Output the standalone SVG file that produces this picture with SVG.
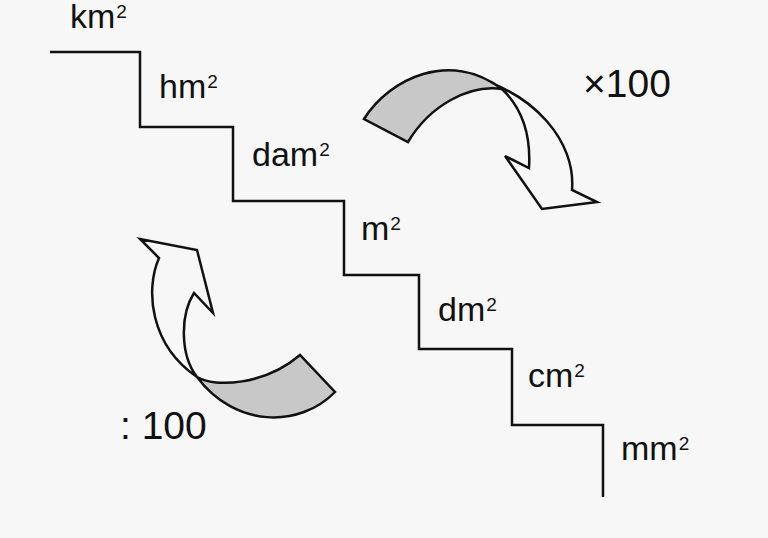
<svg xmlns="http://www.w3.org/2000/svg" width="768" height="538" viewBox="0 0 768 538">
<style>
.lbl{font-family:"Liberation Sans",Arial,sans-serif;font-size:34px;fill:#111}
.sup{font-size:19px}
.op{font-family:"Liberation Sans",Arial,sans-serif;font-size:39px;fill:#111}
.line{fill:none;stroke:#111;stroke-width:2.5}
.body{fill:#f7f7f7;stroke:#111;stroke-width:2.5;stroke-linejoin:miter}
.back{fill:#c8c8c8;stroke:#111;stroke-width:2.5;stroke-linejoin:miter}
</style>
<rect width="768" height="538" fill="#f7f7f7"/>
<g id="connectors">
<path id="stairs" class="line" d="M50,52 H140 V127 H233 V201 H344 V275 H419 V349 H512 V425 H603 V497"/>
</g>
<g id="arrow-x100">
<path class="body" d="M468,76 C535,92 576,142 572,190 L597,202 L542,209 L505,156 L529,168 C531,135 522,108 502,89 Z"/>
<path class="back" d="M364,119 C390,78 450,50 502,89 C470,84 430,105 408,142 Z"/>
</g>
<g id="arrow-div100">
<path class="body" d="M197,377 C150,345 145,290 159,258 L140,239 L197,250 L213,313 L194,293 C180,315 180,355 197,377 Z"/>
<path class="back" d="M197,377 C215,388 265,385 300,355 L335,392 C300,428 235,428 197,377 Z"/>
</g>
<g id="n-km"><text class="lbl" x="70" y="28">km<tspan class="sup" dy="-10" dx="1">2</tspan></text></g>
<g id="n-hm"><text class="lbl" x="159" y="98">hm<tspan class="sup" dy="-10" dx="1">2</tspan></text></g>
<g id="n-dam"><text class="lbl" x="252" y="166">dam<tspan class="sup" dy="-10" dx="1">2</tspan></text></g>
<g id="n-m"><text class="lbl" x="361" y="240">m<tspan class="sup" dy="-10" dx="1">2</tspan></text></g>
<g id="n-dm"><text class="lbl" x="438" y="321">dm<tspan class="sup" dy="-10" dx="1">2</tspan></text></g>
<g id="n-cm"><text class="lbl" x="528" y="387">cm<tspan class="sup" dy="-10" dx="1">2</tspan></text></g>
<g id="n-mm"><text class="lbl" x="621" y="460">mm<tspan class="sup" dy="-10" dx="1">2</tspan></text></g>
<g id="n-times"><text class="op" x="583" y="97">×100</text></g>
<g id="n-div"><text class="op" x="120" y="439">: 100</text></g>
</svg>
